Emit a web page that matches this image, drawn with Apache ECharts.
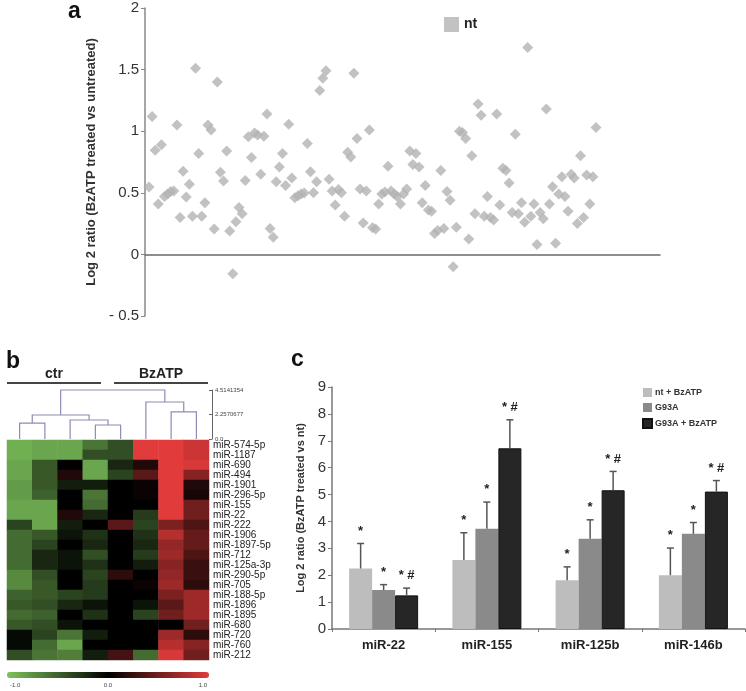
<!DOCTYPE html>
<html><head><meta charset="utf-8">
<script src="https://cdn.jsdelivr.net/npm/echarts@6/dist/echarts.min.js"></script>
<style>html,body{margin:0;padding:0;background:#fff}#c{width:746px;height:691px}</style>
</head><body><div id="c"></div>
<script>
// ---------- Panel a: scatter ----------
const scatterName = 'nt';
const scatterValues = [
0.547,1.12,0.845,0.41,0.89,0.47,0.49,0.51,0.515,1.05,0.30,0.675,0.466,0.57,0.31,1.51,0.82,0.31,0.42,1.05,
1.01,0.206,1.40,0.667,0.596,0.84,0.19,-0.157,0.266,0.38,0.33,0.60,0.954,0.786,0.986,0.97,0.65,0.96,1.14,0.21,
0.14,0.59,0.71,0.82,0.56,1.057,0.62,0.46,0.477,0.49,0.499,0.90,0.67,0.50,0.59,1.33,1.43,1.49,0.61,0.515,
0.40,0.526,0.50,0.31,0.83,0.79,1.47,0.94,0.53,0.255,0.515,1.01,0.217,0.206,0.41,0.49,0.507,0.715,0.515,0.49,
0.47,0.41,0.49,0.53,0.84,0.73,0.82,0.71,0.42,0.56,0.36,0.35,0.17,0.195,0.68,0.21,0.51,0.44,-0.10,0.22,
1.00,0.99,0.94,0.125,0.80,0.33,1.22,1.13,0.31,0.47,0.30,0.28,1.14,0.40,0.70,0.68,0.58,0.34,0.976,0.33,
0.42,0.26,1.68,0.31,0.41,0.08,0.34,0.29,1.18,0.41,0.55,0.09,0.49,0.63,0.47,0.35,0.65,0.62,0.25,0.80,
0.30,0.645,0.41,0.63,1.03
];
const scatterYTicks = {'-0.5':'- 0.5','0':'0','0.5':'0.5','1':'1','1.5':'1.5','2':'2'};
const scatterYName = 'Log 2 ratio (BzATP treated vs untreated)';

// ---------- Panel b: heatmap ----------
const heatCols = ['ctr 1','ctr 2','ctr 3','ctr 4','BzATP 1','BzATP 2','BzATP 3','BzATP 4'];
const heatRows = ['miR-574-5p','miR-1187','miR-690','miR-494','miR-1901','miR-296-5p','miR-155','miR-22',
  'miR-222','miR-1906','miR-1897-5p','miR-712','miR-125a-3p','miR-290-5p','miR-705','miR-188-5p',
  'miR-1896','miR-1895','miR-680','miR-720','miR-760','miR-212'];
const heatValues = [
 [-0.9,-0.85,-0.85,-0.6,-0.4,1.0,1.0,0.9],
 [-0.9,-0.85,-0.85,-0.4,-0.4,1.0,1.0,0.9],
 [-0.85,-0.45,0.0,-0.85,-0.2,0.15,1.0,0.95],
 [-0.85,-0.45,0.15,-0.85,-0.35,0.4,1.0,0.6],
 [-0.8,-0.45,-0.15,-0.15,0.0,0.05,1.0,0.15],
 [-0.8,-0.5,0.0,-0.6,0.0,0.05,1.0,0.1],
 [-0.85,-0.85,0.0,-0.55,0.0,0.0,1.0,0.5],
 [-0.85,-0.85,0.15,-0.2,0.0,-0.3,1.0,0.5],
 [-0.35,-0.85,-0.15,0.0,0.4,-0.35,0.55,0.35],
 [-0.55,-0.45,-0.1,-0.25,0.0,-0.25,0.8,0.45],
 [-0.55,-0.35,0.0,-0.2,0.0,-0.2,0.65,0.45],
 [-0.55,-0.2,-0.1,-0.4,0.0,-0.3,0.7,0.35],
 [-0.55,-0.2,-0.1,-0.25,0.0,-0.15,0.6,0.25],
 [-0.7,-0.4,0.0,-0.35,0.2,0.0,0.65,0.25],
 [-0.7,-0.45,0.0,-0.3,0.0,0.05,0.7,0.2],
 [-0.5,-0.45,-0.35,-0.3,0.0,0.0,0.55,0.7],
 [-0.45,-0.4,-0.2,-0.1,0.0,-0.1,0.4,0.7],
 [-0.55,-0.5,0.0,-0.25,0.0,-0.35,0.5,0.7],
 [-0.45,-0.4,-0.1,0.0,0.0,0.0,0.0,0.5],
 [-0.05,-0.35,-0.6,-0.15,0.0,0.0,0.7,0.2],
 [-0.05,-0.55,-0.85,0.0,0.0,0.0,0.8,0.6],
 [-0.4,-0.6,-0.65,-0.15,0.3,-0.55,0.95,0.5]
];
// dendrogram merges: [childA, childB, height]; leaves 0..7, clusters numbered 8.. in order
const dendroMerges = [[0,1,1.47],[3,4,1.29],[2,9,1.75],[8,10,2.21],[6,7,2.49],[5,12,3.41],[11,13,4.5141354]];
const dendroScaleMax = 4.5141354;
const dendroScaleLabels = {'0':'0.0','2.2570677':'2.2570677','4.5141354':'4.5141354'};
const groupNames = ['ctr','BzATP'];
const groupFrom = [0,4];
const groupTo = [4,8];
const colorbarLabels = ['-1.0','0.0','1.0'];

// ---------- Panel c: bars ----------
const barCategories = ['miR-22','miR-155','miR-125b','miR-146b'];
const barSeriesNames = ['nt + BzATP','G93A','G93A + BzATP'];
const ntBz = [2.25,2.57,1.81,2.00];
const g93a = [1.45,3.73,3.36,3.54];
const g93aBz = [1.25,6.72,5.16,5.11];
const ntBzSd = [0.93,1.01,0.50,1.01];
const g93aSd = [0.20,0.99,0.70,0.42];
const g93aBzSd = [0.27,1.06,0.70,0.41];
const ntBzSig = ['*','*','*','*'];
const g93aSig = ['*','*','*','*'];
const g93aBzSig = ['* #','* #','* #','* #'];
const barYName = 'Log 2 ratio (BzATP treated vs nt)';

// ---------- build ----------
const FONT = 'Arial, "Liberation Sans", sans-serif';
const barColors = ['#bdbdbd','#8a8a8a','#262626'];
const BAR_W = 23;

const nodeX = [], nodeH = [];
for (let i = 0; i < heatCols.length; i++) { nodeX[i] = i + 0.5; nodeH[i] = 0; }
dendroMerges.forEach((m, k) => { const id = heatCols.length + k; nodeX[id] = (nodeX[m[0]] + nodeX[m[1]]) / 2; nodeH[id] = m[2]; });
const dendroData = dendroMerges.map(m => [nodeX[m[0]], nodeH[m[0]], nodeX[m[1]], nodeH[m[1]], m[2]]);

const heatData = [];
heatValues.forEach((row, r) => row.forEach((v, c) => heatData.push([c, r, v])));

const barVals = [ntBz, g93a, g93aBz];
const barSds = [ntBzSd, g93aSd, g93aBzSd];
const barSigs = [ntBzSig, g93aSig, g93aBzSig];
const errData = [];
barVals.forEach((vals, s) => vals.forEach((v, i) => errData.push([i, s, v, barSds[s][i], barSigs[s][i]])));

// scatter x range: points occupy the left part of the axis (index spacing)
const nPts = scatterValues.length;
const pxPerIdx = 447 / (nPts - 1);
const xMin = -4 / pxPerIdx;
const xMax = (nPts - 1) + 64 / pxPerIdx;

const chart = echarts.init(document.getElementById('c'), null, {renderer: 'canvas'});
const option = {
  backgroundColor: '#fff',
  animation: false,
  textStyle: {fontFamily: FONT},
  grid: [
    {left: 145, top: 8, width: 515, height: 308},
    {left: 7, top: 390, width: 202, height: 49},
    {left: 7, top: 440, width: 202, height: 220},
    {left: 332, top: 387, width: 413, height: 242}
  ],
  xAxis: [
    {gridIndex: 0, type: 'value', min: xMin, max: xMax, axisLine: {show: true, onZero: true, lineStyle: {color: '#6a6a6a', width: 1.5}},
     axisTick: {show: false}, axisLabel: {show: false}, splitLine: {show: false}},
    {gridIndex: 1, type: 'value', min: 0, max: 8, show: false},
    {gridIndex: 2, type: 'category', data: heatCols, show: false},
    {gridIndex: 3, type: 'category', data: barCategories,
     axisLine: {show: true, lineStyle: {color: '#777', width: 1.5}},
     axisTick: {show: true, length: 3, lineStyle: {color: '#777'}},
     axisLabel: {fontSize: 13, fontWeight: 'bold', color: '#222', margin: 10, fontFamily: FONT}}
  ],
  yAxis: [
    {gridIndex: 0, type: 'value', min: -0.5, max: 2, interval: 0.5,
     axisLine: {show: true, onZero: false, lineStyle: {color: '#888', width: 1.5}},
     axisTick: {show: true, length: 4, lineStyle: {color: '#888'}},
     axisLabel: {fontSize: 15, color: '#333', margin: 6, fontFamily: FONT, formatter: v => scatterYTicks[String(v)] || String(v)},
     splitLine: {show: false},
     name: scatterYName, nameLocation: 'middle', nameGap: 43,
     nameTextStyle: {fontSize: 13, fontWeight: 'bold', color: '#333', fontFamily: FONT}},
    {gridIndex: 1, type: 'value', min: 0, max: dendroScaleMax, interval: dendroScaleMax / 2, position: 'right', offset: 3,
     axisLine: {show: true, onZero: false, lineStyle: {color: '#666', width: 1}},
     axisTick: {show: true, inside: true, length: 3, lineStyle: {color: '#666'}},
     axisLabel: {fontSize: 6, color: '#444', margin: 3, fontFamily: FONT,
       formatter: v => dendroScaleLabels[String(+v.toFixed(7))] || String(v)},
     splitLine: {show: false}},
    {gridIndex: 2, type: 'category', data: heatRows, inverse: true, position: 'right',
     axisLine: {show: false}, axisTick: {show: false},
     axisLabel: {interval: 0, fontSize: 10, color: '#222', margin: 4, fontFamily: FONT}},
    {gridIndex: 3, type: 'value', min: 0, max: 9, interval: 1,
     axisLine: {show: true, onZero: false, lineStyle: {color: '#777', width: 1.5}},
     axisTick: {show: true, length: 4, lineStyle: {color: '#777'}},
     axisLabel: {fontSize: 15, color: '#333', margin: 6, fontFamily: FONT},
     splitLine: {show: false},
     name: barYName, nameLocation: 'middle', nameGap: 24,
     nameTextStyle: {fontSize: 11, fontWeight: 'bold', color: '#333', fontFamily: FONT}}
  ],
  legend: [
    {data: [scatterName], left: 444, top: 17, padding: 0, itemWidth: 15, itemHeight: 15, icon: 'rect',
     textStyle: {fontSize: 14, fontWeight: 'bold', color: '#222', fontFamily: FONT}},
    {data: barSeriesNames, orient: 'vertical', left: 642, top: 388, padding: 0, itemWidth: 9, itemHeight: 9, itemGap: 6, icon: 'rect',
     textStyle: {fontSize: 9, fontWeight: 'bold', color: '#333', fontFamily: FONT, padding: [0,0,0,-2]}}
  ],
  visualMap: {
    type: 'continuous', seriesIndex: 3, min: -1, max: 1, orient: 'horizontal',
    left: 7, top: 672, itemWidth: 6, itemHeight: 202, padding: 0, calculable: false, text: null, showLabel: false,
    inRange: {color: ['#7cc35a', '#000000', '#e23b3b']}
  },
  graphic: [
    {type: 'text', left: 68, top: 0, style: {text: 'a', font: 'bold 23px ' + FONT, fill: '#111'}},
    {type: 'text', left: 6, top: 350, style: {text: 'b', font: 'bold 23px ' + FONT, fill: '#111'}},
    {type: 'text', left: 291, top: 348, style: {text: 'c', font: 'bold 23px ' + FONT, fill: '#111'}}
  ].concat(colorbarLabels.map((t, i) => ({
    type: 'text', x: i === 0 ? 10 : (i === 1 ? 7 + 101 : 7 + 200), y: 682,
    style: {text: t, font: '6px ' + FONT, fill: '#444', textAlign: i === 0 ? 'left' : (i === 2 ? 'right' : 'center')}
  }))),
  series: [
    {name: scatterName, type: 'scatter', xAxisIndex: 0, yAxisIndex: 0, symbol: 'diamond', symbolSize: 11,
     itemStyle: {color: '#b3b3b3'}, data: scatterValues.map((v, i) => [i, v])},
    {type: 'custom', xAxisIndex: 1, yAxisIndex: 1, silent: true,
     renderItem: (params, api) => {
       const a0 = api.coord([api.value(0), api.value(1)]);
       const a1 = api.coord([api.value(0), api.value(4)]);
       const b1 = api.coord([api.value(2), api.value(4)]);
       const b0 = api.coord([api.value(2), api.value(3)]);
       return {type: 'polyline', shape: {points: [a0, a1, b1, b0]}, style: {stroke: '#8c8cb6', fill: null, lineWidth: 1.2}};
     },
     data: dendroData},
    {type: 'custom', xAxisIndex: 1, yAxisIndex: 1, silent: true, clip: false,
     renderItem: (params, api) => {
       const i = params.dataIndex;
       const from = api.value(0), to = api.value(1);
       const p0 = api.coord([from, dendroScaleMax]);
       const p1 = api.coord([to, dendroScaleMax]);
       const y = p0[1] - 7;
       const x0 = p0[0] + (from > 0 ? 6 : 0);
       const x1 = p1[0] - (to < heatCols.length ? 7 : 1);
       return {type: 'group', children: [
         {type: 'line', shape: {x1: x0, y1: y, x2: x1, y2: y}, style: {stroke: '#444', lineWidth: 2}},
         {type: 'text', x: (x0 + x1) / 2, y: y - 2, style: {text: groupNames[i], font: 'bold 14px ' + FONT, fill: '#222', textAlign: 'center', textVerticalAlign: 'bottom'}}
       ]};
     },
     data: groupFrom.map((f, i) => [f, groupTo[i]])},
    {type: 'heatmap', xAxisIndex: 2, yAxisIndex: 2, data: heatData, itemStyle: {borderWidth: 0}},
    ...barVals.map((vals, s) => ({
      name: barSeriesNames[s], type: 'bar', xAxisIndex: 3, yAxisIndex: 3, barWidth: BAR_W, barGap: '0%',
      itemStyle: {color: barColors[s], borderColor: s === 2 ? '#111' : barColors[s], borderWidth: s === 2 ? 1 : 0},
      data: vals
    })),
    {type: 'custom', xAxisIndex: 3, yAxisIndex: 3, silent: true, z: 5,
     renderItem: (params, api) => {
       const cat = api.value(0), s = api.value(1), v = api.value(2), sd = api.value(3);
       const base = api.coord([cat, v]);
       const top = api.coord([cat, v + sd]);
       const x = base[0] + (s - 1) * BAR_W;
       const sig = errData[params.dataIndex][4];
       return {type: 'group', children: [
         {type: 'line', shape: {x1: x, y1: base[1], x2: x, y2: top[1]}, style: {stroke: '#555', lineWidth: 1.5}},
         {type: 'line', shape: {x1: x - 3.5, y1: top[1], x2: x + 3.5, y2: top[1]}, style: {stroke: '#555', lineWidth: 1.5}},
         {type: 'text', x: x, y: top[1] - 6, style: {text: sig, font: 'bold 13px ' + FONT, fill: '#222', textAlign: 'center', textVerticalAlign: 'bottom'}}
       ]};
     },
     data: errData}
  ]
};
chart.setOption(option);
</script>
</body></html>
